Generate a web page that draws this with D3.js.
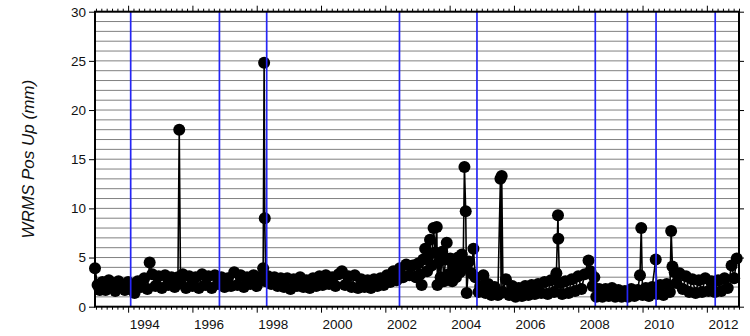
<!DOCTYPE html>
<html>
<head>
<meta charset="utf-8">
<script src="https://cdn.jsdelivr.net/npm/d3@7"></script>
<style>
  html, body { margin: 0; padding: 0; background: #fff; }
  svg { display: block; font-family: "Liberation Sans", Arial, Helvetica, sans-serif; }
</style>
</head>
<body>
<div id="chart"></div>
<script>
// decimal year, WRMS (mm)
var obs = [
  [1992.97,3.9],[1993.05,2.2],[1993.12,1.7],[1993.2,2.5],[1993.3,1.7],[1993.4,2.7],[1993.5,2.0],[1993.6,1.6],
  [1993.7,2.6],[1993.8,2.1],[1993.9,1.7],[1994.0,2.5],[1994.1,1.9],[1994.2,1.4],[1994.3,2.6],[1994.4,2.0],
  [1994.5,2.9],[1994.6,1.8],[1994.67,4.5],[1994.75,3.3],[1994.85,2.1],[1994.95,3.1],[1995.05,1.9],[1995.15,3.2],
  [1995.25,2.2],[1995.35,3.0],[1995.45,2.0],[1995.55,3.0],[1995.59,18.0],[1995.63,2.4],[1995.7,3.3],[1995.8,1.9],
  [1995.9,3.1],[1996.0,2.1],[1996.1,3.0],[1996.2,1.9],[1996.3,3.3],[1996.4,2.2],[1996.5,3.1],[1996.6,1.9],
  [1996.7,3.2],[1996.8,2.3],[1996.9,3.0],[1997.0,2.0],[1997.1,2.9],[1997.2,2.1],[1997.3,3.5],[1997.4,2.2],
  [1997.5,3.2],[1997.6,2.0],[1997.7,3.0],[1997.8,2.3],[1997.9,3.2],[1998.0,2.1],[1998.1,3.0],[1998.2,3.9],
  [1998.23,24.8],[1998.25,9.0],[1998.28,2.6],[1998.35,3.1],[1998.45,2.3],[1998.55,3.0],[1998.65,2.1],[1998.75,2.9],
  [1998.85,2.0],[1998.95,2.9],[1999.05,1.8],[1999.15,2.8],[1999.25,2.1],[1999.35,3.0],[1999.45,2.0],[1999.55,2.7],
  [1999.65,1.9],[1999.75,2.9],[1999.85,2.1],[1999.95,3.1],[2000.05,2.2],[2000.15,3.2],[2000.25,2.3],[2000.35,3.0],
  [2000.45,2.1],[2000.55,3.3],[2000.65,3.6],[2000.75,2.2],[2000.85,3.1],[2000.95,2.0],[2001.05,3.2],[2001.15,1.9],
  [2001.25,2.8],[2001.35,2.0],[2001.45,2.7],[2001.55,1.9],[2001.65,2.8],[2001.75,2.1],[2001.85,2.9],[2001.95,2.2],
  [2002.05,3.2],[2002.15,2.5],[2002.25,3.6],[2002.35,2.7],[2002.45,3.9],[2002.55,3.0],[2002.65,4.3],[2002.75,3.2],
  [2002.85,4.2],[2002.95,3.0],[2003.02,4.4],[2003.08,3.3],[2003.13,2.2],[2003.18,4.8],[2003.24,5.9],[2003.3,3.6],
  [2003.35,5.2],[2003.39,6.8],[2003.44,4.2],[2003.5,8.0],[2003.55,5.5],[2003.6,8.1],[2003.62,2.2],[2003.67,4.6],
  [2003.72,3.0],[2003.77,5.6],[2003.82,2.6],[2003.87,4.8],[2003.91,6.5],[2003.96,3.3],[2004.02,4.9],[2004.08,2.6],
  [2004.14,4.2],[2004.2,3.0],[2004.26,5.0],[2004.32,3.5],[2004.38,5.3],[2004.42,4.0],
  [2004.46,14.2],[2004.5,9.7],[2004.53,1.4],[2004.6,4.6],[2004.67,3.4],[2004.74,5.9],[2004.8,3.0],[2004.9,1.5],
  [2004.95,2.1],[2005.05,3.2],[2005.12,1.4],[2005.2,2.3],[2005.3,1.2],[2005.4,2.0],[2005.5,1.2],[2005.58,13.0],
  [2005.6,1.4],[2005.62,13.3],[2005.66,1.5],[2005.75,2.8],[2005.85,1.2],[2005.95,2.1],[2006.05,1.0],[2006.15,1.9],
  [2006.25,1.1],[2006.35,2.1],[2006.45,1.2],[2006.55,2.2],[2006.65,1.3],[2006.75,2.3],[2006.85,1.4],[2006.95,2.5],
  [2007.05,1.3],[2007.15,2.7],[2007.25,1.5],[2007.32,3.4],[2007.37,9.3],[2007.38,6.9],[2007.42,2.4],[2007.5,1.3],
  [2007.6,2.6],[2007.7,1.4],[2007.8,2.8],[2007.9,1.6],[2008.0,3.1],[2008.1,1.8],[2008.2,3.3],[2008.32,4.7],
  [2008.38,3.6],[2008.45,2.1],[2008.5,3.0],[2008.56,1.0],[2008.65,1.8],[2008.75,1.0],[2008.85,1.8],[2008.95,1.1],
  [2009.05,1.9],[2009.15,1.0],[2009.25,1.7],[2009.35,1.0],[2009.45,1.6],[2009.55,1.0],[2009.65,1.8],[2009.75,1.1],
  [2009.85,1.7],[2009.92,3.2],[2009.96,8.0],[2010.0,1.2],[2010.1,1.9],[2010.2,1.1],[2010.3,2.0],[2010.41,4.8],
  [2010.45,1.3],[2010.55,2.2],[2010.65,1.2],[2010.75,2.3],[2010.85,1.5],[2010.89,7.7],[2010.93,4.1],[2011.0,3.5],
  [2011.05,2.4],[2011.15,3.4],[2011.25,1.8],[2011.35,3.1],[2011.45,1.5],[2011.55,2.8],[2011.65,1.4],[2011.75,2.7],
  [2011.85,1.5],[2011.95,2.9],[2012.05,1.6],[2012.15,2.6],[2012.25,1.5],[2012.35,2.7],[2012.45,1.6],[2012.55,2.9],
  [2012.65,1.9],[2012.77,4.2],[2012.85,2.9],[2012.93,4.9]
];

// equipment / offset epochs (blue lines)
var breaks = [1994.08, 1996.84, 1998.31, 2002.44, 2004.85, 2008.53, 2009.53, 2010.42, 2012.26];

var yearTicks = [1994, 1996, 1998, 2000, 2002, 2004, 2006, 2008, 2010, 2012];
var yTicks = [0, 5, 10, 15, 20, 25, 30];

var W = 750, H = 336;
var margin = {top: 11.7, right: 11, bottom: 29.3, left: 95};
var width = W - margin.left - margin.right,
    height = H - margin.top - margin.bottom;

var svg = d3.select("#chart").append("svg")
    .attr("width", W)
    .attr("height", H)
  .append("g")
    .attr("transform", "translate(" + margin.left + "," + margin.top + ")");

var x = d3.scaleLinear().domain([1992.97, 2013.0]).range([0, width]);
var y = d3.scaleLinear().domain([0, 30]).range([height, 0]);

var series = d3.sort(obs, d => d[0]);

// horizontal grid, every 1 mm
svg.append("g")
  .selectAll("line")
  .data(d3.range(1, 30))
  .enter().append("line")
    .attr("x1", 0).attr("x2", width)
    .attr("y1", d => y(d)).attr("y2", d => y(d))
    .attr("stroke", "#808080")
    .attr("stroke-width", 1);

// time series
var line = d3.line().x(d => x(d[0])).y(d => y(d[1]));
svg.append("path")
  .datum(series)
  .attr("d", line)
  .attr("fill", "none")
  .attr("stroke", "#000")
  .attr("stroke-width", 1.6);

svg.append("g")
  .selectAll("circle")
  .data(series)
  .enter().append("circle")
    .attr("cx", d => x(d[0]))
    .attr("cy", d => y(d[1]))
    .attr("r", 6)
    .attr("fill", "#000");

// blue vertical lines
svg.append("g")
  .selectAll("line")
  .data(breaks)
  .enter().append("line")
    .attr("x1", d => x(d)).attr("x2", d => x(d))
    .attr("y1", 0).attr("y2", height)
    .attr("stroke", "#2626f5")
    .attr("stroke-width", 1.7);

// axes
var minorTicks = d3.range(1993 * 6, 2013 * 6 + 1).map(d => d / 6)
  .filter(d => d >= 1992.97 && Math.abs(d - Math.round(d / 2) * 2) > 0.01);

function tickStyle(g) {
  g.select(".domain").remove();
  g.selectAll("line").attr("stroke", "#000").attr("stroke-width", 1);
}

svg.append("g").attr("transform", "translate(0," + height + ")")
  .call(d3.axisBottom(x).tickValues(minorTicks).tickSize(3).tickFormat(""))
  .call(tickStyle);
svg.append("g").attr("transform", "translate(0," + height + ")")
  .call(d3.axisBottom(x).tickValues(yearTicks).tickSize(6).tickFormat(""))
  .call(tickStyle);
svg.append("g")
  .call(d3.axisTop(x).tickValues(minorTicks).tickSize(3).tickFormat(""))
  .call(tickStyle);
svg.append("g")
  .call(d3.axisTop(x).tickValues(yearTicks).tickSize(6).tickFormat(""))
  .call(tickStyle);

// year labels sit at mid-year
svg.append("g").attr("transform", "translate(0," + height + ")")
  .call(d3.axisBottom(x).tickValues(yearTicks.map(d => d + 0.5)).tickSize(0).tickPadding(13)
    .tickFormat(d => Math.floor(d)))
  .call(g => g.select(".domain").remove())
  .call(g => g.selectAll("text").attr("font-size", 13.5).attr("fill", "#111")
    .attr("font-family", "'Liberation Sans', Arial, sans-serif"));

svg.append("g")
  .call(d3.axisLeft(y).tickValues(yTicks).tickSize(6).tickPadding(3))
  .call(tickStyle)
  .call(g => g.selectAll("text").attr("font-size", 13.5).attr("fill", "#111")
    .attr("font-family", "'Liberation Sans', Arial, sans-serif"));

svg.append("g").attr("transform", "translate(" + width + ",0)")
  .call(d3.axisRight(y).tickValues(yTicks).tickSize(5).tickFormat(""))
  .call(tickStyle);

// frame
svg.append("rect")
  .attr("x", 0).attr("y", 0)
  .attr("width", width).attr("height", height)
  .attr("fill", "none")
  .attr("stroke", "#000")
  .attr("stroke-width", 2);

// y label
svg.append("text")
  .attr("transform", "translate(" + (33.5 - margin.left) + "," + (height / 2) + ") rotate(-90)")
  .attr("text-anchor", "middle")
  .attr("font-size", 17)
  .attr("font-style", "italic")
  .attr("fill", "#111")
  .text("WRMS Pos Up (mm)");
</script>
</body>
</html>
